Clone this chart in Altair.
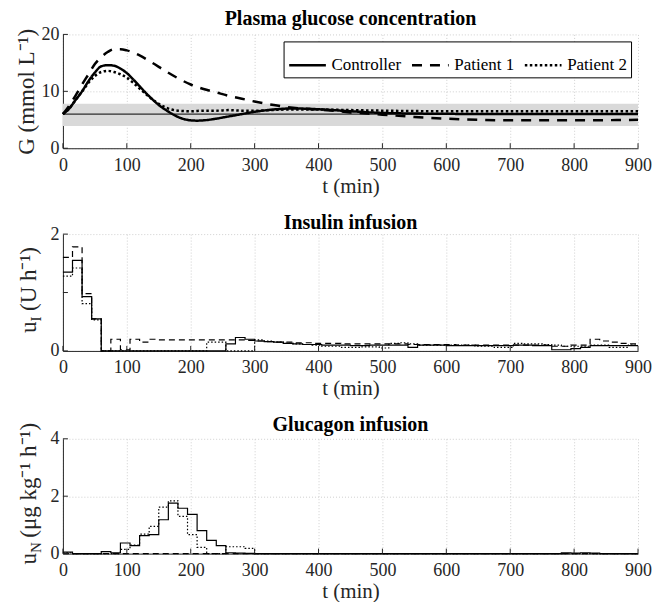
import altair as alt
import pandas as pd

FONT = "Liberation Serif"
INK = "#262626"

series_names = ["Controller", "Patient 1", "Patient 2"]

# ---------------- Plasma glucose (mmol/L) ----------------
ctrl_t = [0, 10, 20, 30, 40, 50, 60, 70, 80, 90, 100, 110, 120, 130, 140, 150, 160, 170, 180,
          190, 200, 210, 220, 240, 260, 280, 300, 320, 340, 360, 380, 400, 450, 500, 550, 600,
          700, 800, 900]
ctrl_g = [6.0, 7.0, 8.5, 10.0, 11.8, 13.3, 14.4, 14.6, 14.5, 14.0, 13.2, 12.1, 10.9, 9.7, 8.6,
          7.6, 6.8, 6.1, 5.5, 5.1, 4.9, 4.85, 4.9, 5.2, 5.6, 6.0, 6.4, 6.7, 6.9, 7.0, 6.95, 6.85,
          6.5, 6.2, 6.1, 6.05, 6.0, 6.0, 6.0]

p1_t = [0, 10, 20, 30, 40, 50, 60, 70, 80, 90, 100, 120, 140, 160, 180, 200, 220, 240, 260,
        280, 300, 330, 360, 400, 450, 500, 550, 600, 650, 700, 800, 900]
p1_g = [6.0, 7.5, 9.3, 11.2, 13.0, 14.8, 16.0, 16.9, 17.4, 17.4, 17.2, 16.3, 15.0, 13.6, 12.3,
        11.2, 10.4, 9.8, 9.2, 8.7, 8.2, 7.6, 7.1, 6.8, 6.3, 5.9, 5.5, 5.2, 5.0, 4.9, 4.9, 5.0]

p2_t = [0, 10, 20, 30, 40, 50, 60, 70, 80, 90, 100, 110, 120, 130, 140, 150, 160, 170, 180,
        200, 220, 240, 260, 280, 300, 350, 400, 450, 500, 600, 700, 800, 900]
p2_g = [6.0, 7.0, 8.5, 10.0, 11.5, 12.7, 13.4, 13.6, 13.4, 13.0, 12.4, 11.5, 10.5, 9.5, 8.6,
        7.8, 7.2, 6.8, 6.6, 6.5, 6.6, 6.6, 6.7, 6.6, 6.6, 6.8, 6.8, 6.7, 6.6, 6.5, 6.5, 6.5, 6.5]

band_low = 3.9
band_high = 7.8
target_g = 6.0

# ---------------- Insulin infusion (U/h), 15-min steps from t=0 ----------------
step_min = 15
t_end = 900
ins_ctrl = [1.35, 1.55, 0.93, 0.55,
            0, 0, 0, 0, 0, 0, 0, 0, 0, 0, 0, 0, 0,
            0.12, 0.23, 0.20, 0.17, 0.16, 0.15, 0.13, 0.12, 0.11, 0.11,
            0.10, 0.10, 0.10, 0.09, 0.09, 0.10, 0.10, 0.10, 0.10, 0.06,
            0.10, 0.10, 0.10, 0.09, 0.09, 0.09, 0.09, 0.09, 0.09, 0.09,
            0.10, 0.10, 0.09, 0.09, 0.02, 0.02, 0.04, 0.06, 0.09, 0.09,
            0.09, 0.09, 0.09]
ins_p1 = [1.60, 1.78, 0.98, 0.55,
          0.0, 0.20, 0.02, 0.20, 0.15, 0.20,
          0.19, 0.19, 0.19, 0.19, 0.19, 0.19, 0.19, 0.19, 0.19,
          0.18, 0.17, 0.16, 0.15, 0.15, 0.14, 0.14, 0.13, 0.13, 0.13,
          0.12, 0.12, 0.12, 0.12, 0.12, 0.12, 0.12, 0.11, 0.11, 0.11,
          0.11, 0.11, 0.10, 0.10, 0.10, 0.10, 0.10, 0.10, 0.10, 0.10,
          0.10, 0.10, 0.08, 0.08, 0.10, 0.10, 0.20, 0.17, 0.15, 0.13,
          0.12]
ins_p2 = [1.28, 1.42, 0.81, 0.53,
          0, 0, 0, 0, 0, 0, 0, 0, 0, 0, 0,
          0.15, 0.15, 0.0, 0.0, 0.0,
          0.19, 0.17, 0.15, 0.13, 0.12, 0.11, 0.10, 0.08, 0.08, 0.06,
          0.06, 0.07, 0.07, 0.05, 0.13, 0.14, 0.12, 0.10, 0.10, 0.10,
          0.10, 0.10, 0.10, 0.08, 0.08, 0.06, 0.06, 0.13, 0.12, 0.12,
          0.11, 0.10, 0.08, 0.08, 0.08, 0.10, 0.10, 0.06, 0.06, 0.10]

# ---------------- Glucagon infusion (ug/kg/h), 15-min steps ----------------
glu_ctrl = [0.05, 0.0, 0.0, 0.0, 0.07, 0.03, 0.37, 0.28, 0.63, 0.66,
            1.18, 1.76, 1.58, 1.37, 0.80, 0.46, 0.28, 0.03, 0.02, 0.01,
            0, 0, 0, 0, 0, 0, 0, 0, 0, 0,
            0, 0, 0, 0, 0, 0, 0, 0, 0, 0,
            0, 0, 0, 0, 0, 0, 0, 0, 0, 0,
            0, 0, 0.03, 0.02, 0.03, 0.02, 0, 0, 0, 0]
glu_p1 = [0, 0, 0, 0, 0, 0, 0, 0, 0, 0,
          0, 0, 0, 0, 0, 0, 0, 0, 0, 0,
          0, 0, 0, 0, 0, 0, 0, 0, 0, 0,
          0, 0, 0, 0, 0, 0, 0, 0, 0, 0,
          0, 0, 0, 0, 0, 0, 0, 0, 0, 0,
          0, 0, 0, 0, 0, 0, 0, 0, 0, 0]
glu_p2 = [0.03, 0, 0, 0, 0, 0, 0.15, 0.30, 0.68, 0.95,
          1.62, 1.84, 1.30, 0.66, 0.22, 0.0, 0.0, 0.24, 0.24, 0.18,
          0, 0, 0, 0, 0, 0, 0, 0, 0, 0,
          0, 0, 0, 0, 0, 0, 0, 0, 0, 0,
          0, 0, 0, 0, 0, 0, 0, 0, 0, 0,
          0, 0, 0, 0, 0, 0, 0, 0, 0, 0]

x_ticks = [0, 100, 200, 300, 400, 500, 600, 700, 800, 900]
g_ticks = [0, 10, 20]
ins_ticks = [0, 1, 2]
glu_ticks = [0, 2, 4]

W = 576
YT = 23  # y-title font size

X_AXIS = alt.Axis(values=x_ticks, title="t (min)", labelFlush=False, labelOverlap=False,
                  format="d", labelPadding=8, titlePadding=1)


def step_frame(values_by_series):
    rows = []
    for name, vals in zip(series_names, values_by_series):
        for i, v in enumerate(vals):
            rows.append({"series": name, "t": i * step_min, "v": v})
        rows.append({"series": name, "t": t_end, "v": vals[-1]})
    return pd.DataFrame(rows)


def x_enc(field):
    return alt.X(field, type="quantitative",
                 scale=alt.Scale(domain=[x_ticks[0], x_ticks[-1]], nice=False, zero=False),
                 axis=X_AXIS)


def y_enc(field, ticks, yaxis):
    return alt.Y(field, type="quantitative",
                 scale=alt.Scale(domain=[ticks[0], ticks[-1]], nice=False),
                 axis=yaxis)


def y_axis(ticks, ttl):
    if ttl is None:
        return alt.Axis(values=ticks, title=None, labelOverlap=False, format="d",
                        labelPadding=4)
    return alt.Axis(values=ticks, title=ttl, labelOverlap=False, format="d", labelPadding=4,
                    titlePadding=2, titleFontSize=YT)


def tick_layers(yticks, yaxis, H):
    xt = alt.Chart(pd.DataFrame({"v": x_ticks})).mark_rule(color=INK, strokeWidth=1).encode(
        x=x_enc("v"), y=alt.value(H), y2=alt.value(H - 5))
    yt = alt.Chart(pd.DataFrame({"v": yticks})).mark_rule(color=INK, strokeWidth=1).encode(
        y=y_enc("v", yticks, yaxis), x=alt.value(0), x2=alt.value(5))
    return [xt, yt]


def rot_text(txt, x, y, size):
    return alt.Chart(pd.DataFrame({"k": [0]})).mark_text(
        text=txt, angle=270, align="left", baseline="alphabetic", font=FONT,
        fontSize=size, color=INK).encode(x=alt.value(x), y=alt.value(y))


def title(txt, off):
    return alt.TitleParams(txt, font=FONT, fontSize=20, fontWeight="bold", color="black",
                           anchor="middle", frame="group", offset=off)


# ---------------- Panel 1 ----------------
H1 = 114
Y1 = y_axis(g_ticks, "G (mmol L⁻¹)")
gl_rows = []
for name, ts, gs in zip(series_names, [ctrl_t, p1_t, p2_t], [ctrl_g, p1_g, p2_g]):
    for t, g in zip(ts, gs):
        gl_rows.append({"series": name, "t": t, "G": g})
gl_df = pd.DataFrame(gl_rows)

ref_df = pd.DataFrame({"t0": [x_ticks[0]], "t1": [x_ticks[-1]], "lo": [band_low],
                       "hi": [band_high], "g": [target_g]})

band = alt.Chart(ref_df).mark_rect(color="#d9d9d9").encode(
    x=x_enc("t0"), x2="t1", y=y_enc("lo", g_ticks, Y1), y2="hi")
target = alt.Chart(ref_df).mark_rule(color="black", strokeWidth=1).encode(
    x=x_enc("t0"), x2="t1", y=y_enc("g", g_ticks, Y1))
curves = alt.Chart(gl_df).mark_line(strokeWidth=2.5, color="black", interpolate="monotone",
                                    strokeCap="butt").encode(
    x=x_enc("t"), y=y_enc("G", g_ticks, Y1),
    strokeDash=alt.StrokeDash("series:N",
                              scale=alt.Scale(domain=series_names,
                                              range=[[1, 0], [10, 8], [2.5, 2.5]]),
                              legend=alt.Legend(orient="none", legendX=221, legendY=7,
                                                direction="horizontal", title=None,
                                                strokeColor="black", fillColor="white",
                                                padding=4, labelFont=FONT, labelFontSize=17,
                                                labelColor="black", symbolType="stroke",
                                                symbolStrokeColor="black",
                                                symbolStrokeWidth=2.5, symbolSize=1350,
                                                columnPadding=5, labelOffset=4)))

p1 = alt.layer(band, target, curves, *tick_layers(g_ticks, Y1, H1)).properties(
    width=W, height=H1, title=title("Plasma glucose concentration", -3.5))

# ---------------- Panel 2 ----------------
H2 = 117
Y2 = y_axis(ins_ticks, None)
ins_df = step_frame([ins_ctrl, ins_p1, ins_p2])
ins_lines = alt.Chart(ins_df).mark_line(strokeWidth=1.2, color="black",
                                        interpolate="step-after").encode(
    x=x_enc("t"), y=y_enc("v", ins_ticks, Y2),
    strokeDash=alt.StrokeDash("series:N",
                              scale=alt.Scale(domain=series_names,
                                              range=[[1, 0], [6, 4], [1.5, 2]]),
                              legend=None))
p2 = alt.layer(ins_lines, *tick_layers(ins_ticks, Y2, H2),
               rot_text("u", -27, 99, YT), rot_text("I", -22, 87.5, 15),
               rot_text("(U h⁻¹)", -27, 77, YT)).properties(
    width=W, height=H2, title=title("Insulin infusion", -7.5))

# ---------------- Panel 3 ----------------
H3 = 115
Y3 = y_axis(glu_ticks, None)
glu_df = step_frame([glu_ctrl, glu_p1, glu_p2])
glu_lines = alt.Chart(glu_df).mark_line(strokeWidth=1.2, color="black",
                                        interpolate="step-after").encode(
    x=x_enc("t"), y=y_enc("v", glu_ticks, Y3),
    strokeDash=alt.StrokeDash("series:N",
                              scale=alt.Scale(domain=series_names,
                                              range=[[1, 0], [6, 4], [1.5, 2]]),
                              legend=None))
p3 = alt.layer(glu_lines, *tick_layers(glu_ticks, Y3, H3),
               rot_text("u", -27, 126, YT), rot_text("N", -22, 114.5, 15),
               rot_text("(μg kg⁻¹ h⁻¹)", -27, 99, YT)).properties(
    width=W, height=H3, title=title("Glucagon infusion", -12))

chart = alt.vconcat(p1, p2, p3, spacing=16).resolve_scale(
    strokeDash="independent").resolve_legend(strokeDash="independent").properties(
    padding={"left": 7, "top": 0, "right": 0, "bottom": 0}
).configure_view(stroke=None).configure_axis(
    labelFont=FONT, labelFontSize=18, labelColor=INK, titleFont=FONT, titleFontSize=21,
    titleFontWeight="normal", titleColor=INK, domainColor=INK, domainWidth=1, ticks=False,
    grid=True, gridDash=[1, 2], gridColor="#cfcfcf", gridWidth=1)

chart.save("out.html", embed_options={"renderer": "svg", "actions": False})
